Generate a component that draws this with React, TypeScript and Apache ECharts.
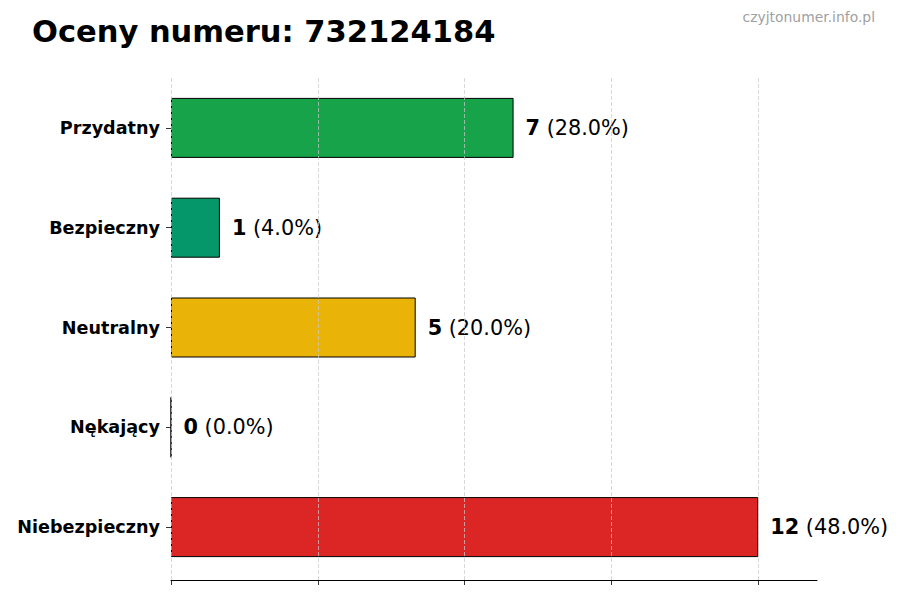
import React, { useEffect, useRef } from "react";
import * as echarts from "echarts";

const titleText = "Oceny numeru: 732124184";
const watermark = "czyjtonumer.info.pl";
const categories = ["Przydatny", "Bezpieczny", "Neutralny", "Nękający", "Niebezpieczny"];
const values = [7, 1, 5, 0, 12];
const colors = ["#16a34a", "#059669", "#eab308", "#f97316", "#dc2626"];
const xTicks = [0, 3, 6, 9, 12];

const FONT = "'DejaVu Sans', sans-serif";
const X_MAX = 13.2;

export default function App() {
  const ref = useRef<HTMLDivElement>(null);
  useEffect(() => {
    if (!ref.current) return;
    const chart = echarts.init(ref.current, null, { renderer: "svg" });
    const total = values.reduce((a, b) => a + b, 0);
    chart.setOption({
      animation: false,
      backgroundColor: "#ffffff",
      textStyle: { fontFamily: FONT },
      graphic: [
        {
          type: "text",
          left: 32,
          top: 16,
          style: {
            text: titleText,
            fontFamily: FONT,
            fontSize: 30.5,
            fontWeight: "bold",
            fill: "#000000",
          },
        },
        {
          type: "text",
          right: 25,
          top: 10,
          style: {
            text: watermark,
            fontFamily: FONT,
            fontSize: 13.9,
            fill: "#a0a0a0",
          },
        },
      ],
      grid: [
        { left: 171, right: 83, top: 76, bottom: 20, containLabel: false },
        { left: 171, right: 83, top: 78, bottom: 23, containLabel: false },
      ],
      xAxis: [
        {
          gridIndex: 0,
          type: "value",
          min: 0,
          max: X_MAX,
          interval: 3,
          axisLine: { show: true, lineStyle: { color: "#000000", width: 1 } },
          axisTick: { show: true, length: 5, customValues: xTicks, lineStyle: { color: "#000000", width: 0.8 } },
          axisLabel: { show: false },
          splitLine: { show: false },
        },
        {
          gridIndex: 1,
          type: "value",
          min: 0,
          max: X_MAX,
          interval: 3,
          show: false,
          splitLine: { show: false },
        },
      ],
      yAxis: [
        {
          gridIndex: 0,
          type: "value",
          min: 0,
          max: 1,
          show: false,
          splitLine: { show: false },
        },
        {
          gridIndex: 1,
          type: "category",
          data: categories,
          inverse: true,
          axisLine: { show: false },
          axisTick: { show: true, length: 5, alignWithLabel: true, lineStyle: { color: "#000000", width: 0.8 } },
          axisLabel: {
            margin: 11,
            fontFamily: FONT,
            fontSize: 17.6,
            fontWeight: "bold",
            color: "#000000",
          },
          splitLine: { show: false },
        },
      ],
      series: [
        {
          type: "bar",
          xAxisIndex: 1,
          yAxisIndex: 1,
          barWidth: 60,
          z: 2,
          data: values.map((v, i) => ({
            value: v,
            itemStyle: { color: colors[i], borderColor: "#000000", borderWidth: 1 },
          })),
          label: {
            show: true,
            position: "right",
            distance: 12,
            formatter: (p: any) =>
              `{b|${p.value}}{n|(${((p.value / total) * 100).toFixed(1)}%)}`,
            rich: {
              b: { fontFamily: FONT, fontSize: 20.8, fontWeight: "bold", color: "#000000", padding: [0, 6.6, 0, 0] },
              n: { fontFamily: FONT, fontSize: 20.8, color: "#000000" },
            },
          },
        },
        {
          type: "line",
          xAxisIndex: 0,
          yAxisIndex: 0,
          data: [],
          z: 5,
          markLine: {
            silent: true,
            symbol: "none",
            label: { show: false },
            lineStyle: { color: "#c8c8c8", type: [4, 2], width: 0.8, opacity: 0.9 },
            data: xTicks.map((t) => ({ xAxis: t })),
          },
        },
      ],
    });
    return () => chart.dispose();
  }, []);
  return (
    <div
      ref={ref}
      style={{ position: "absolute", left: 0, top: 0, width: 900, height: 600 }}
    />
  );
}
